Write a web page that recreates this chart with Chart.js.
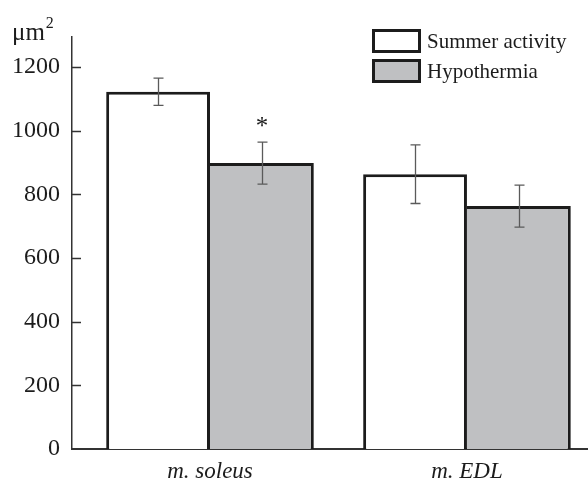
<!DOCTYPE html>
<html>
<head>
<meta charset="utf-8">
<script src="https://cdn.jsdelivr.net/npm/chart.js@4/dist/chart.umd.min.js"></script>
<style>
  html, body { margin: 0; padding: 0; background: #fff; }
  #wrap { width: 588px; height: 481px; position: relative; }
</style>
</head>
<body>
<div id="wrap"><canvas id="c"></canvas></div>
<script>
"use strict";

const categories = ["m. soleus", "m. EDL"];
const seriesNames = ["Summer activity", "Hypothermia"];
const summer = [1122, 863];
const summerErr = [43, 92];
const hypo = [898, 763];
const hypoErr = [66, 66];
const hypoSig = ["*", ""];
const yTicks = [0, 200, 400, 600, 800, 1000, 1200];
const unitLabel = "μm";
const unitPower = "2";

const SERIF = "'Liberation Serif', 'DejaVu Serif', serif";
const INK = "#1c1c1c";
const GREY = "#bfc0c2";

const pts = (vals) => vals.map((v, i) => ({ x: i, y: v }));

const extras = {
  id: "extras",
  afterDatasetsDraw(chart) {
    const { ctx, scales: { y }, chartArea } = chart;
    ctx.save();

    // inward tick marks on the y axis
    ctx.strokeStyle = "#333";
    ctx.lineWidth = 1.5;
    yTicks.forEach((t) => {
      if (t === 0) return;
      const py = Math.round(y.getPixelForValue(t)) + 0.5;
      ctx.beginPath();
      ctx.moveTo(chartArea.left, py);
      ctx.lineTo(chartArea.left + 9, py);
      ctx.stroke();
    });

    // error bars
    const errs = [summerErr, hypoErr];
    ctx.strokeStyle = "#5a5a5a";
    ctx.lineWidth = 1.3;
    chart.data.datasets.forEach((ds, di) => {
      const meta = chart.getDatasetMeta(di);
      meta.data.forEach((bar, i) => {
        const v = ds.data[i].y;
        const e = errs[di][i];
        const top = y.getPixelForValue(v + e);
        const bot = y.getPixelForValue(v - e);
        const x = Math.round(bar.x) + 0.5;
        ctx.beginPath();
        ctx.moveTo(x, top); ctx.lineTo(x, bot);
        ctx.moveTo(x - 5, top); ctx.lineTo(x + 5, top);
        ctx.moveTo(x - 5, bot); ctx.lineTo(x + 5, bot);
        ctx.stroke();
      });
    });

    // significance marks
    ctx.fillStyle = INK;
    ctx.font = "25px " + SERIF;
    ctx.textAlign = "center";
    ctx.textBaseline = "alphabetic";
    const hm = chart.getDatasetMeta(1);
    hypoSig.forEach((s, i) => {
      if (!s) return;
      const top = y.getPixelForValue(hypo[i] + hypoErr[i]);
      ctx.fillText(s, hm.data[i].x, top - 8);
    });

    // unit label
    ctx.textAlign = "left";
    ctx.font = "25px " + SERIF;
    ctx.fillText(unitLabel, 12, 40);
    const w = ctx.measureText(unitLabel).width;
    ctx.font = "16px " + SERIF;
    ctx.fillText(unitPower, 12 + w + 1, 28);

    // legend
    chart.data.datasets.forEach((ds, di) => {
      const bx = 372, by = 29 + di * 30;
      ctx.fillStyle = ds.backgroundColor;
      ctx.fillRect(bx, by, 49, 24);
      ctx.strokeStyle = INK;
      ctx.lineWidth = 3;
      ctx.strokeRect(bx + 1.5, by + 1.5, 46, 21);
      ctx.fillStyle = INK;
      ctx.font = "21px " + SERIF;
      ctx.textBaseline = "middle";
      ctx.fillText(ds.label, 427, by + 13);
    });

    ctx.restore();
  },
};

new Chart(document.getElementById("c"), {
  type: "bar",
  data: {
    datasets: [
      {
        label: seriesNames[0],
        data: pts(summer),
        backgroundColor: "#ffffff",
        borderColor: INK,
        borderWidth: { top: 3, left: 3, right: 3, bottom: 0 },
        borderSkipped: "bottom",
      },
      {
        label: seriesNames[1],
        data: pts(hypo),
        backgroundColor: GREY,
        borderColor: INK,
        borderWidth: { top: 3, left: 0, right: 3, bottom: 0 },
        borderSkipped: "bottom",
      },
    ],
  },
  options: {
    responsive: true,
    maintainAspectRatio: false,
    animation: false,
    categoryPercentage: 0.808,
    barPercentage: 1,
    layout: { padding: { top: 37, right: 0, left: 0, bottom: 0 } },
    plugins: { legend: { display: false }, tooltip: { enabled: false } },
    scales: {
      x: {
        type: "linear",
        offset: false,
        min: -0.537,
        max: 1.471,
        afterBuildTicks: (s) => { s.ticks = categories.map((c, i) => ({ value: i })); },
        afterFit: (s) => { s.height = 32; },
        grid: { display: false, drawTicks: false },
        border: { display: true, color: "#333", width: 2 },
        ticks: {
          callback: (v) => categories[v],
          font: { family: SERIF, size: 23, style: "italic" },
          color: INK,
          padding: 9,
          maxRotation: 0,
        },
      },
      y: {
        min: 0,
        max: 1294,
        afterBuildTicks: (s) => { s.ticks = yTicks.map((v) => ({ value: v })); },
        afterFit: (s) => { s.width = 72; },
        grid: { display: false, drawTicks: false },
        border: { display: true, color: "#333", width: 1.5 },
        ticks: {
          callback: (v) => String(v),
          font: { family: SERIF, size: 24 },
          color: INK,
          padding: 12,
        },
      },
    },
  },
  plugins: [extras],
});
</script>
</body>
</html>
